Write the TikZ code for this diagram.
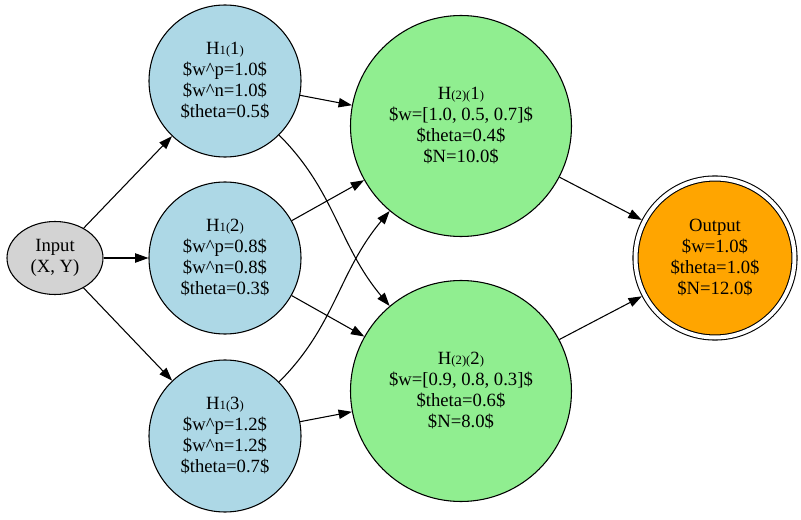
\documentclass[tikz,border=0pt]{standalone}
\usepackage{fontspec}
\setmainfont{Liberation Serif}
\usetikzlibrary{arrows.meta,shapes.geometric}

\definecolor{infill}{HTML}{D3D3D3}
\definecolor{hidone}{HTML}{ADD8E6}
\definecolor{hidtwo}{HTML}{90EE90}
\definecolor{outfill}{HTML}{FFA500}

% small characters inside the node titles
\newcommand{\smc}[1]{{\fontsize{9.5}{9.5}\selectfont #1}}

\begin{document}
\begin{tikzpicture}[x=0.75pt,y=0.75pt,
  neuron/.style={draw, line width=0.8pt, align=center, inner sep=0pt,
                 font=\fontsize{14}{15.75}\selectfont},
  inputnode/.style={neuron, ellipse, fill=infill,
                    minimum width=72pt, minimum height=54.75pt},
  layerone/.style={neuron, circle, fill=hidone, minimum size=114pt},
  layertwo/.style={neuron, circle, fill=hidtwo, minimum size=165.75pt},
  outnode/.style={neuron, circle, fill=outfill, double, double distance=3pt,
                  minimum size=119.25pt, outer sep=2.3pt},
  link/.style={line width=0.8pt, -{Triangle[length=10pt,width=7pt]}}]
\useasboundingbox (0,0) rectangle (801,519);

% input
\node[inputnode] (in) at (55,261) {Input\\(X, Y)};

% first hidden layer
\node[layerone] (a1) at (225,438)
  {H\smc{1(}1\smc{)}\\\$w\textasciicircum p=1.0\$\\\$w\textasciicircum n=1.0\$\\\$theta=0.5\$};
\node[layerone] (a2) at (225,261)
  {H\smc{1(}2\smc{)}\\\$w\textasciicircum p=0.8\$\\\$w\textasciicircum n=0.8\$\\\$theta=0.3\$};
\node[layerone] (a3) at (225,83)
  {H\smc{1(}3\smc{)}\\\$w\textasciicircum p=1.2\$\\\$w\textasciicircum n=1.2\$\\\$theta=0.7\$};

% second hidden layer
\node[layertwo] (b1) at (461,393)
  {H\smc{(2)(}1\smc{)}\\\$w=[1.0, 0.5, 0.7]\$\\\$theta=0.4\$\\\$N=10.0\$};
\node[layertwo] (b2) at (461,128)
  {H\smc{(2)(}2\smc{)}\\\$w=[0.9, 0.8, 0.3]\$\\\$theta=0.6\$\\\$N=8.0\$};

% output
\node[outnode] (out) at (715,261)
  {Output\\\$w=1.0\$\\\$theta=1.0\$\\\$N=12.0\$};

% connections
\draw[link] (in) -- (a1);
\draw[link] (in) -- (a2);
\draw[link] (in) -- (a3);

\draw[link] (a1) -- (b1);
\draw[link] (a1.-45) to[out=-45,in=130] (b2.130);
\draw[link] (a2) -- (b1);
\draw[link] (a2) -- (b2);
\draw[link] (a3.45) to[out=45,in=-130] (b1.-130);
\draw[link] (a3) -- (b2);

\draw[link] (b1) -- (out);
\draw[link] (b2) -- (out);
\end{tikzpicture}
\end{document}
